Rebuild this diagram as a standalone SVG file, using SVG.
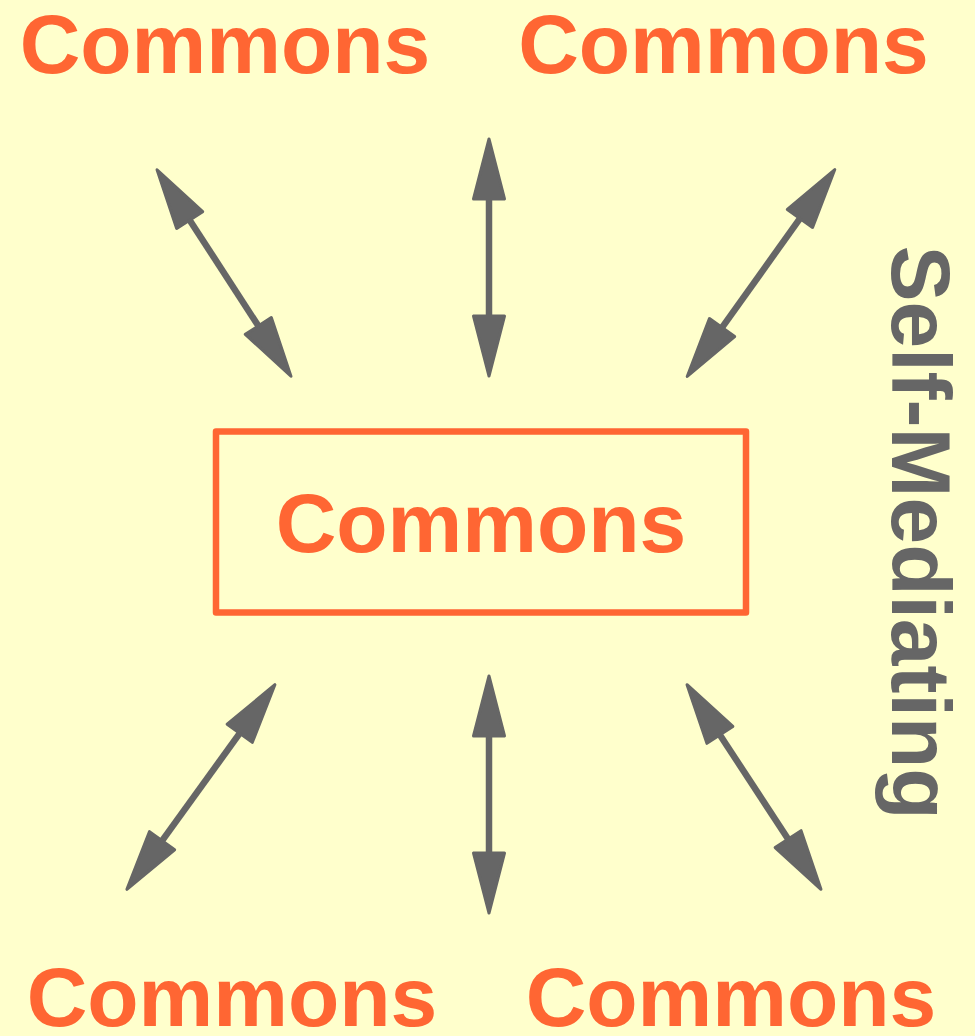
<svg xmlns="http://www.w3.org/2000/svg" width="975" height="1036" viewBox="0 0 975 1036">
<style>
.lbl{font-family:"Liberation Sans",Arial,sans-serif;font-weight:bold;font-size:84px;fill:#FF6633;text-anchor:middle}
.side{font-family:"Liberation Sans",Arial,sans-serif;font-weight:bold;font-size:84px;fill:#666666;text-anchor:middle}
.conn line{stroke:#666666;stroke-width:6.5;marker-start:url(#ah);marker-end:url(#ah)}
</style>
<defs>
<marker id="ah" markerUnits="userSpaceOnUse" viewBox="-4 -20 70 40" markerWidth="70" markerHeight="40" refX="2" refY="0" orient="auto-start-reverse">
<path d="M0,-15.5 L60,0 L0,15.5 Z" fill="#666666" stroke="#666666" stroke-width="3" stroke-linejoin="round"/>
</marker>
</defs>
<rect width="975" height="1036" fill="#FFFFCC"/>
<g id="top-left"><text class="lbl" x="225" y="73">Commons</text></g>
<g id="top-right"><text class="lbl" x="723.5" y="73">Commons</text></g>
<g id="center">
<rect x="216" y="431.5" width="530" height="181" fill="none" stroke="#FF6633" stroke-width="6.5" stroke-linejoin="round"/>
<text class="lbl" x="481" y="552">Commons</text>
</g>
<g id="bottom-left"><text class="lbl" x="232" y="1026">Commons</text></g>
<g id="bottom-right"><text class="lbl" x="731" y="1026">Commons</text></g>
<g id="self-mediating"><text class="side" transform="translate(892,532.5) rotate(90)">Self-Mediating</text></g>
<g id="connectors" class="conn">
<line x1="188.6" y1="218.4" x2="259.4" y2="327.6"/>
<line x1="489" y1="197" x2="489" y2="318"/>
<line x1="801.1" y1="216.8" x2="720.9" y2="329.2"/>
<line x1="240.9" y1="731.7" x2="160.9" y2="842.3"/>
<line x1="489" y1="734" x2="489" y2="855"/>
<line x1="718.8" y1="733.2" x2="789.2" y2="840.8"/>
</g>
</svg>
